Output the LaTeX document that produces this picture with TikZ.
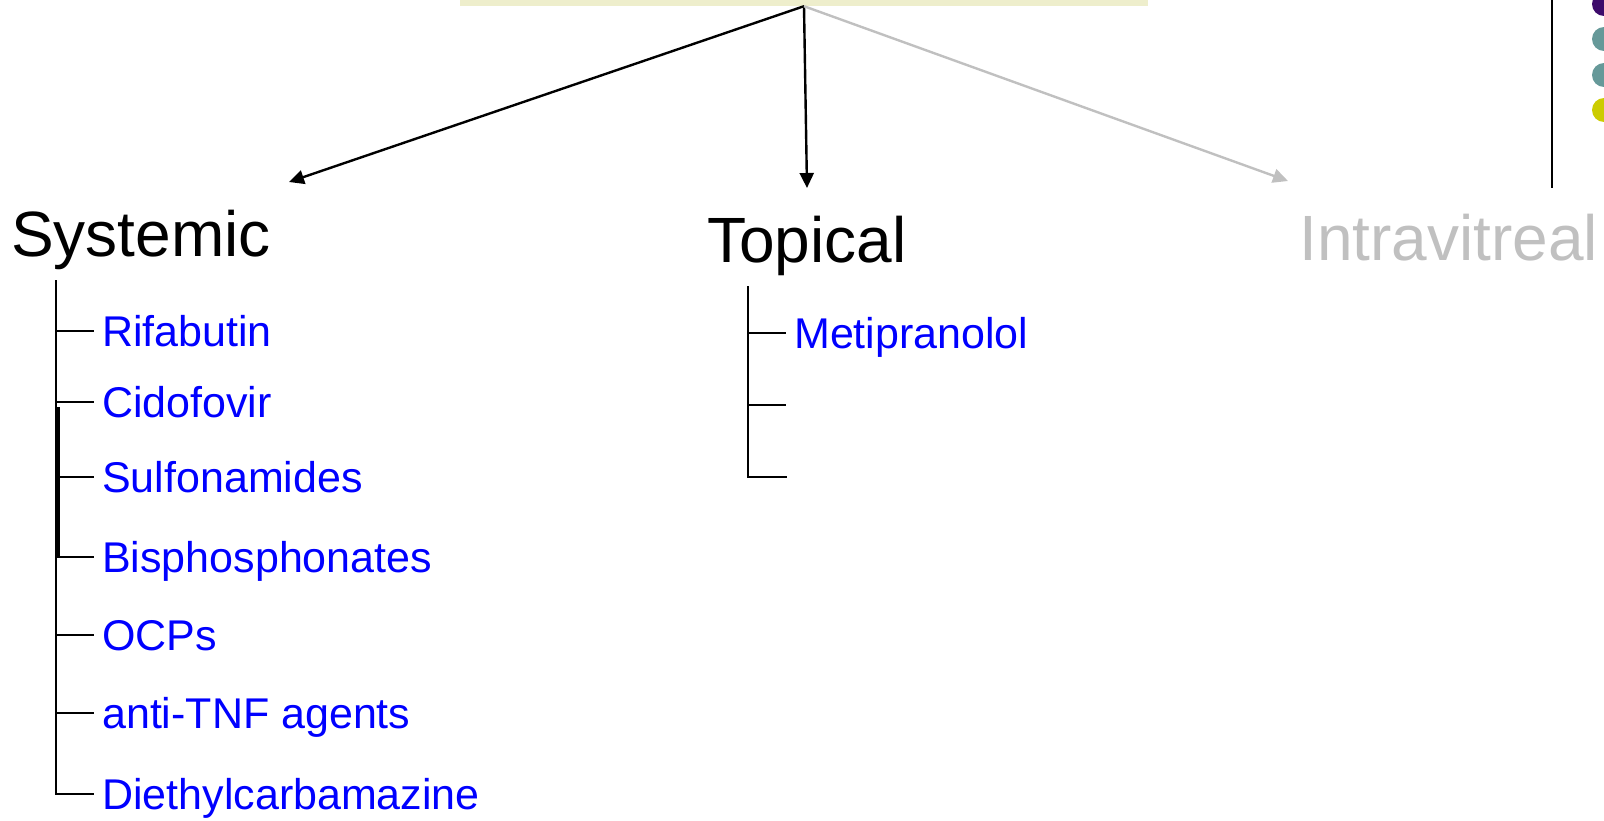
\documentclass[tikz,border=0pt]{standalone}
\usepackage{fontspec}
\setmainfont{Liberation Sans}
\usetikzlibrary{arrows.meta}
\definecolor{boxyellow}{HTML}{EEEECC}
\definecolor{dotpurple}{HTML}{3D0B6B}
\definecolor{dotteal}{HTML}{669999}
\definecolor{dotyellow}{HTML}{CCCC00}
\definecolor{dimgray}{HTML}{C0C0C0}
\begin{document}
\begin{tikzpicture}[x=1pt, y=-1pt,
  cat/.style={anchor=base west, inner sep=0pt, font=\fontsize{64}{70}\selectfont},
  drug/.style={anchor=west, inner sep=0pt, text height=31pt, text depth=0pt,
    text=blue, font=\fontsize{43}{48}\selectfont},
  branch/.style={line width=2.4pt, -{Triangle[length=15pt, width=14pt]}},
  twig/.style={line width=2.2pt}]
  \useasboundingbox (0,0) rectangle (1604,821);
  % Title box (cut off at the top)
  \node[fill=boxyellow, minimum width=688pt, minimum height=72pt, inner sep=0pt]
    (root) at (804,-30) {};
  % Side bar and bullets
  \draw[twig] (1552,-5) -- (1552,188);
  \foreach \y/\c in {4/dotpurple, 39/dotteal, 75/dotteal, 110/dotyellow} {
    \fill[\c] (1604,\y) circle (12);
  }
  % Categories
  \node[cat] (sys) at (11,257) {Systemic};
  \node[cat] (top) at (707,262) {Topical};
  \node[cat, text=dimgray] (intra) at (1299,261) {Intravitreal};
  % Arrows from the title
  \coordinate (sysend) at (289,182);
  \coordinate (topend) at (807,188);
  \coordinate (intraend) at (1288,181);
  \draw[branch] (root.south) -- (sysend);
  \draw[branch] (root.south) -- (topend);
  \draw[branch, dimgray] (root.south) -- (intraend);
  % Systemic drugs
  \coordinate (systop) at (56,281);
  \foreach \y/\name/\lab in {331/rif/Rifabutin, 402/cido/Cidofovir,
      477/sulfa/Sulfonamides, 557/bisph/Bisphosphonates, 635/ocp/OCPs,
      713/tnf/anti-TNF agents, 794/dec/Diethylcarbamazine} {
    \node[drug] (\name) at (102,\y) {\lab};
    \draw[twig, shorten >=8pt] (systop |- \name.west) -- (\name.west);
  }
  \draw[twig, line cap=rect] (systop) -- (systop |- dec.west);
  \draw[twig] (58.5,407) -- (58.5,557);
  % Topical drugs
  \coordinate (toptop) at (748,287);
  \node[drug] (meti) at (794,333) {Metipranolol};
  \coordinate (tend2) at (786,405);
  \coordinate (tend3) at (786,477);
  \draw[twig, shorten >=8pt] (toptop |- meti.west) -- (meti.west);
  \draw[twig] (toptop |- tend2) -- (tend2);
  \draw[twig, line cap=rect] (toptop) -- (toptop |- tend3) -- (tend3);
\end{tikzpicture}
\end{document}
